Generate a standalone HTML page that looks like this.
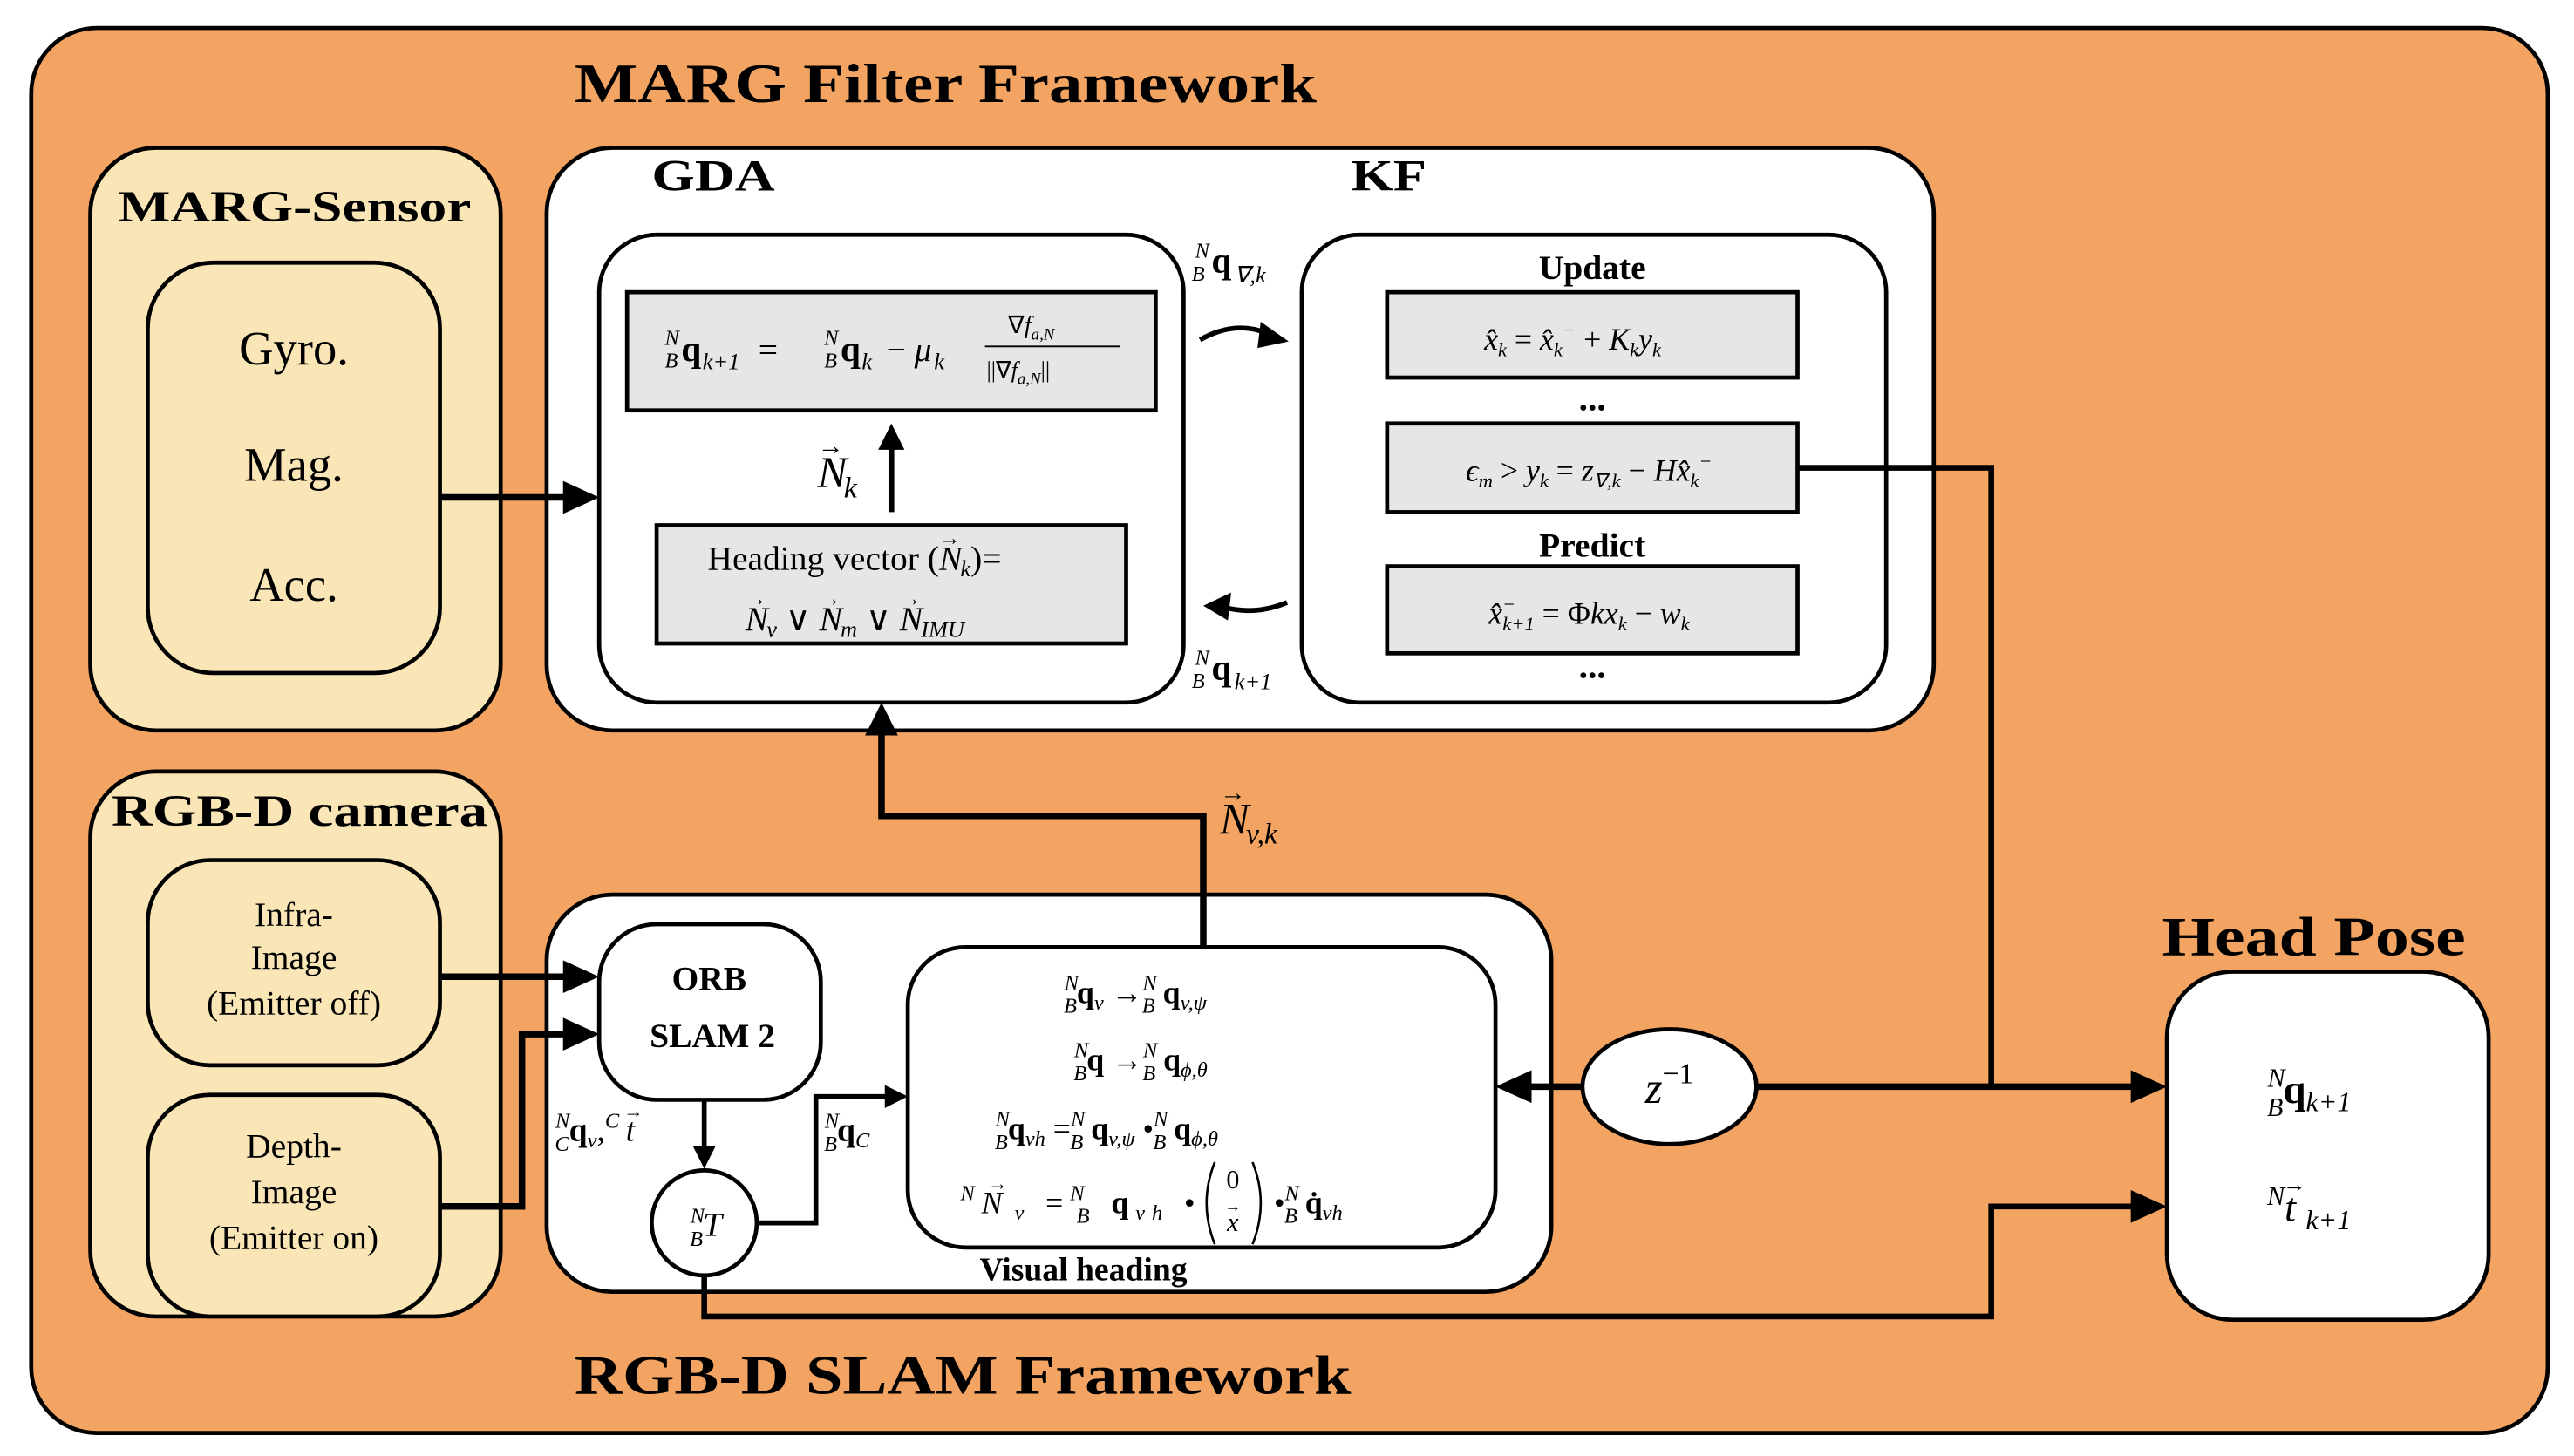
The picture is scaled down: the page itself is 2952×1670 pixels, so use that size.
<!DOCTYPE html>
<html><head><meta charset="utf-8">
<style>
html,body{margin:0;padding:0;background:#fff;}
svg{display:block;}
text{font-family:"Liberation Serif",serif;fill:#000;}
.b{font-weight:bold;}
.i{font-style:italic;}
</style></head>
<body>
<svg width="2952" height="1670" viewBox="0 0 1568 887" xmlns="http://www.w3.org/2000/svg">
<rect x="0" y="0" width="1568" height="887" fill="#fff"/>
<rect x="19" y="17" width="1533" height="856" rx="40" fill="#F3A462" stroke="#000" stroke-width="2.5"/>
<text x="350" y="62" font-size="34" class="b" textLength="452" lengthAdjust="spacingAndGlyphs">MARG Filter Framework</text>
<text x="350" y="849" font-size="34" class="b" textLength="473" lengthAdjust="spacingAndGlyphs">RGB-D SLAM Framework</text>

<!-- MARG sensor -->
<rect x="55" y="90" width="250" height="355" rx="40" fill="#F9E5B6" stroke="#000" stroke-width="2.5"/>
<text x="72" y="135" font-size="27" class="b" textLength="215" lengthAdjust="spacingAndGlyphs">MARG-Sensor</text>
<rect x="90" y="160" width="178" height="250" rx="40" fill="#F9E5B6" stroke="#000" stroke-width="2.5"/>
<text x="179" y="222" font-size="29" text-anchor="middle">Gyro.</text>
<text x="179" y="293" font-size="29" text-anchor="middle">Mag.</text>
<text x="179" y="366" font-size="29" text-anchor="middle">Acc.</text>

<!-- GDA/KF -->
<rect x="333" y="90" width="845" height="355" rx="40" fill="#fff" stroke="#000" stroke-width="2.5"/>
<text x="397" y="116" font-size="27" class="b" textLength="75" lengthAdjust="spacingAndGlyphs">GDA</text>
<text x="823" y="116" font-size="27" class="b" textLength="46" lengthAdjust="spacingAndGlyphs">KF</text>
<rect x="365" y="143" width="356" height="285" rx="35" fill="#fff" stroke="#000" stroke-width="2.5"/>
<rect x="382" y="178" width="322" height="72" fill="#e6e6e6" stroke="#000" stroke-width="2.5"/>
<g class="i" font-size="13">
<text x="405" y="210">N</text><text x="405" y="224">B</text>
<text x="502" y="210">N</text><text x="502" y="224">B</text>
</g>
<text x="415" y="220" font-size="22" class="b">q</text>
<text x="428" y="225" font-size="14" class="i">k+1</text>
<text x="462" y="220" font-size="21">=</text>
<text x="512" y="220" font-size="22" class="b">q</text>
<text x="525" y="225" font-size="14" class="i">k</text>
<text x="540" y="220" font-size="21">−</text>
<text x="557" y="220" font-size="21" class="i">μ</text>
<text x="569" y="225" font-size="14" class="i">k</text>
<text x="614" y="203" font-size="15">∇<tspan class="i">f</tspan><tspan font-size="10" class="i" dy="4">a,N</tspan></text>
<line x1="600" y1="211" x2="682" y2="211" stroke="#000" stroke-width="1"/>
<text x="601" y="230" font-size="14">||∇<tspan class="i">f</tspan><tspan font-size="10" class="i" dy="4">a,N</tspan><tspan dy="-4">||</tspan></text>

<rect x="400" y="320" width="286" height="72" fill="#e6e6e6" stroke="#000" stroke-width="2.5"/>
<text x="431" y="347" font-size="21">Heading vector (<tspan class="i">N</tspan><tspan font-size="13" dx="-14" dy="-15">→</tspan><tspan font-size="14" class="i" dy="19">k</tspan><tspan dy="-4">)=</tspan></text>
<text x="454" y="384" font-size="21"><tspan class="i">N</tspan><tspan font-size="13" dx="-14" dy="-15">→</tspan><tspan font-size="14" class="i" dy="19">v</tspan><tspan dy="-4"> ∨ </tspan><tspan class="i">N</tspan><tspan font-size="13" dx="-14" dy="-15">→</tspan><tspan font-size="14" class="i" dy="19">m</tspan><tspan dy="-4"> ∨ </tspan><tspan class="i">N</tspan><tspan font-size="13" dx="-14" dy="-15">→</tspan><tspan font-size="14" class="i" dy="19">IMU</tspan></text>
<line x1="543" y1="312" x2="543" y2="272" stroke="#000" stroke-width="3.5"/>
<polygon points="543,258 535,274 551,274" fill="#000"/>
<text x="498" y="297" font-size="27"><tspan class="i">N</tspan><tspan font-size="16" dx="-18" dy="-20">→</tspan><tspan font-size="18" class="i" dy="26">k</tspan></text>

<rect x="793" y="143" width="356" height="285" rx="35" fill="#fff" stroke="#000" stroke-width="2.5"/>
<text x="970" y="170" font-size="21" class="b" text-anchor="middle">Update</text>
<rect x="845" y="178" width="250" height="52" fill="#e6e6e6" stroke="#000" stroke-width="2.5"/>
<text x="958" y="213" font-size="19" text-anchor="middle" class="i">x̂<tspan font-size="12" dy="4">k</tspan><tspan dy="-4" font-style="normal"> = </tspan>x̂<tspan font-size="12" dy="4">k</tspan><tspan font-size="12" dy="-12">−</tspan><tspan dy="8" font-style="normal"> + </tspan>K<tspan font-size="12" dy="4">k</tspan><tspan dy="-4">y</tspan><tspan font-size="12" dy="4">k</tspan></text>
<text x="970" y="250" font-size="22" text-anchor="middle" class="b">...</text>
<rect x="845" y="258" width="250" height="54" fill="#e6e6e6" stroke="#000" stroke-width="2.5"/>
<text x="968" y="293" font-size="19" text-anchor="middle" class="i">ϵ<tspan font-size="12" dy="4">m</tspan><tspan dy="-4" font-style="normal"> &gt; </tspan>y<tspan font-size="12" dy="4">k</tspan><tspan dy="-4" font-style="normal"> = </tspan>z<tspan font-size="12" dy="4">∇,k</tspan><tspan dy="-4" font-style="normal"> − </tspan>Hx̂<tspan font-size="12" dy="4">k</tspan><tspan font-size="12" dy="-12">−</tspan></text>
<text x="970" y="339" font-size="21" class="b" text-anchor="middle">Predict</text>
<rect x="845" y="345" width="250" height="53" fill="#e6e6e6" stroke="#000" stroke-width="2.5"/>
<text x="968" y="380" font-size="19" text-anchor="middle" class="i">x̂<tspan font-size="12" dy="-8">−</tspan><tspan font-size="12" dx="-8" dy="12">k+1</tspan><tspan dy="-4" font-style="normal"> = Φ</tspan>kx<tspan font-size="12" dy="4">k</tspan><tspan dy="-4" font-style="normal"> − </tspan>w<tspan font-size="12" dy="4">k</tspan></text>
<text x="970" y="413" font-size="22" text-anchor="middle" class="b">...</text>

<path d="M731,207 Q752,195 772,203" fill="none" stroke="#000" stroke-width="3"/>
<polygon points="785,208 768,196 766,212" fill="#000"/>
<path d="M784,367 Q765,375 746,370" fill="none" stroke="#000" stroke-width="3"/>
<polygon points="733,369 750,361 748,378" fill="#000"/>
<g class="i" font-size="13">
<text x="728" y="157">N</text><text x="726" y="171">B</text>
<text x="728" y="405">N</text><text x="726" y="419">B</text>
</g>
<text x="738" y="166" font-size="22" class="b">q</text>
<text x="752" y="172" font-size="14" class="i">∇,k</text>
<text x="738" y="414" font-size="22" class="b">q</text>
<text x="752" y="420" font-size="14" class="i">k+1</text>

<line x1="268" y1="303" x2="348" y2="303" stroke="#000" stroke-width="4"/>
<polygon points="365,303 343,293 343,313" fill="#000"/>

<polyline points="1095,285 1213,285 1213,662" fill="none" stroke="#000" stroke-width="3.5"/>

<rect x="55" y="470" width="250" height="332" rx="40" fill="#F9E5B6" stroke="#000" stroke-width="2.5"/>
<text x="68" y="503" font-size="27" class="b" textLength="229" lengthAdjust="spacingAndGlyphs">RGB-D camera</text>
<rect x="90" y="524" width="178" height="125" rx="38" fill="#F9E5B6" stroke="#000" stroke-width="2.5"/>
<text x="179" y="564" font-size="21" text-anchor="middle">Infra-</text>
<text x="179" y="590" font-size="21" text-anchor="middle">Image</text>
<text x="179" y="618" font-size="21" text-anchor="middle">(Emitter off)</text>
<rect x="90" y="667" width="178" height="135" rx="38" fill="#F9E5B6" stroke="#000" stroke-width="2.5"/>
<text x="179" y="705" font-size="21" text-anchor="middle">Depth-</text>
<text x="179" y="733" font-size="21" text-anchor="middle">Image</text>
<text x="179" y="761" font-size="21" text-anchor="middle">(Emitter on)</text>

<rect x="333" y="545" width="612" height="242" rx="40" fill="#fff" stroke="#000" stroke-width="2.5"/>
<rect x="365" y="563" width="135" height="107" rx="35" fill="#fff" stroke="#000" stroke-width="2.5"/>
<text x="432" y="603" font-size="21" class="b" text-anchor="middle">ORB</text>
<text x="434" y="638" font-size="21" class="b" text-anchor="middle">SLAM 2</text>
<rect x="553" y="577" width="358" height="183" rx="35" fill="#fff" stroke="#000" stroke-width="2.5"/>
<text x="660" y="780" font-size="20" class="b" text-anchor="middle">Visual heading</text>

<text x="648" y="611" font-size="19"><tspan font-size="13" class="i" dy="-8">N</tspan><tspan font-size="13" class="i" dx="-9" dy="14">B</tspan><tspan class="b" dy="-6">q</tspan><tspan font-size="13" class="i" dy="4">v</tspan><tspan dy="-4"> →</tspan><tspan font-size="13" class="i" dy="-8">N</tspan><tspan font-size="13" class="i" dx="-9" dy="14">B</tspan><tspan class="b" dy="-6"> q</tspan><tspan font-size="13" class="i" dy="4">v,ψ</tspan></text>
<text x="654" y="652" font-size="19"><tspan font-size="13" class="i" dy="-8">N</tspan><tspan font-size="13" class="i" dx="-9" dy="14">B</tspan><tspan class="b" dy="-6">q</tspan><tspan> →</tspan><tspan font-size="13" class="i" dy="-8">N</tspan><tspan font-size="13" class="i" dx="-9" dy="14">B</tspan><tspan class="b" dy="-6"> q</tspan><tspan font-size="13" class="i" dy="4">ϕ,θ</tspan></text>
<text x="606" y="694" font-size="19"><tspan font-size="13" class="i" dy="-8">N</tspan><tspan font-size="13" class="i" dx="-9" dy="14">B</tspan><tspan class="b" dy="-6">q</tspan><tspan font-size="13" class="i" dy="4">vh</tspan><tspan dy="-4"> =</tspan><tspan font-size="13" class="i" dy="-8">N</tspan><tspan font-size="13" class="i" dx="-9" dy="14">B</tspan><tspan class="b" dy="-6"> q</tspan><tspan font-size="13" class="i" dy="4">v,ψ</tspan><tspan dy="-4"> •</tspan><tspan font-size="13" class="i" dy="-8">N</tspan><tspan font-size="13" class="i" dx="-9" dy="14">B</tspan><tspan class="b" dy="-6"> q</tspan><tspan font-size="13" class="i" dy="4">ϕ,θ</tspan></text>
<text x="585" y="739" font-size="19" textLength="143" lengthAdjust="spacing"><tspan font-size="13" class="i" dy="-8">N</tspan><tspan class="i" dy="8">N</tspan><tspan font-size="12" dx="-13" dy="-14">→</tspan><tspan font-size="13" class="i" dy="18">v</tspan><tspan dy="-4"> =</tspan><tspan font-size="13" class="i" dy="-8">N</tspan><tspan font-size="13" class="i" dx="-9" dy="14">B</tspan><tspan class="b" dy="-6"> q</tspan><tspan font-size="13" class="i" dy="4">vh</tspan><tspan dy="-4"> •</tspan></text>
<path d="M740,708 Q730,733 740,758" fill="none" stroke="#000" stroke-width="1.4"/>
<path d="M763,708 Q773,733 763,758" fill="none" stroke="#000" stroke-width="1.4"/>
<text x="751" y="724" font-size="16" text-anchor="middle">0</text>
<text x="751" y="750" font-size="16" text-anchor="middle" class="i">x</text>
<text x="746" y="738" font-size="10">→</text>
<text x="776" y="739" font-size="19"><tspan>•</tspan><tspan font-size="13" class="i" dy="-8">N</tspan><tspan font-size="13" class="i" dx="-9" dy="14">B</tspan><tspan class="b" dy="-6"> q̇</tspan><tspan font-size="13" class="i" dy="4">vh</tspan></text>

<circle cx="429" cy="745" r="32" fill="#fff" stroke="#000" stroke-width="2.5"/>
<text x="430" y="753" font-size="21" text-anchor="middle" class="i"><tspan font-size="13" dy="-8">N</tspan><tspan font-size="13" dx="-9" dy="14">B</tspan><tspan dy="-6">T</tspan></text>
<text x="338" y="695" font-size="20"><tspan font-size="13" class="i" dy="-8">N</tspan><tspan font-size="13" class="i" dx="-9" dy="14">C</tspan><tspan class="b" dy="-6">q</tspan><tspan font-size="13" class="i" dy="4">v</tspan><tspan dy="-4">,</tspan><tspan font-size="13" class="i" dy="-8">C</tspan><tspan class="i" dx="4" dy="8">t</tspan><tspan font-size="12" dx="-7" dy="-14">→</tspan></text>
<text x="502" y="695" font-size="20"><tspan font-size="13" class="i" dy="-8">N</tspan><tspan font-size="13" class="i" dx="-9" dy="14">B</tspan><tspan class="b" dy="-6">q</tspan><tspan font-size="13" class="i" dy="4">C</tspan></text>

<line x1="268" y1="595" x2="345" y2="595" stroke="#000" stroke-width="4"/>
<polygon points="365,595 343,585 343,605" fill="#000"/>
<polyline points="268,735 318,735 318,630 345,630" fill="none" stroke="#000" stroke-width="4"/>
<polygon points="365,630 343,620 343,640" fill="#000"/>
<line x1="429" y1="670" x2="429" y2="700" stroke="#000" stroke-width="3"/>
<polygon points="429,712 422,698 436,698" fill="#000"/>
<polyline points="462,745 497,745 497,668 542,668" fill="none" stroke="#000" stroke-width="3"/>
<polygon points="553,668 539,661 539,675" fill="#000"/>

<polyline points="733,577 733,497 537,497 537,445" fill="none" stroke="#000" stroke-width="4"/>
<polygon points="537,428 527,448 547,448" fill="#000"/>
<text x="743" y="508" font-size="27"><tspan class="i">N</tspan><tspan font-size="16" dx="-18" dy="-20">→</tspan><tspan font-size="18" class="i" dy="26">v,k</tspan></text>

<ellipse cx="1017" cy="662" rx="53" ry="35" fill="#fff" stroke="#000" stroke-width="2.5"/>
<text x="1017" y="672" font-size="27" text-anchor="middle" class="i">z<tspan font-size="18" dy="-12" font-style="normal">−1</tspan></text>
<line x1="964" y1="662" x2="930" y2="662" stroke="#000" stroke-width="4"/>
<polygon points="911,662 933,652 933,672" fill="#000"/>
<line x1="1070" y1="662" x2="1300" y2="662" stroke="#000" stroke-width="4"/>
<polygon points="1320,662 1298,652 1298,672" fill="#000"/>
<polyline points="429,777 429,802 1213,802 1213,735 1300,735" fill="none" stroke="#000" stroke-width="3.5"/>
<polygon points="1320,735 1298,725 1298,745" fill="#000"/>

<text x="1317" y="582" font-size="34" class="b" textLength="185" lengthAdjust="spacingAndGlyphs">Head Pose</text>
<rect x="1320" y="592" width="196" height="212" rx="40" fill="#fff" stroke="#000" stroke-width="2.5"/>
<text x="1381" y="672" font-size="25"><tspan font-size="16" class="i" dy="-10">N</tspan><tspan font-size="16" class="i" dx="-11" dy="18">B</tspan><tspan class="b" dy="-8">q</tspan><tspan font-size="17" class="i" dy="5">k+1</tspan></text>
<text x="1381" y="744" font-size="25"><tspan font-size="16" class="i" dy="-10">N</tspan><tspan class="i" dy="10">t</tspan><tspan font-size="14" dx="-8" dy="-18">→</tspan><tspan font-size="17" class="i" dy="23">k+1</tspan></text>
</svg>
</body></html>
